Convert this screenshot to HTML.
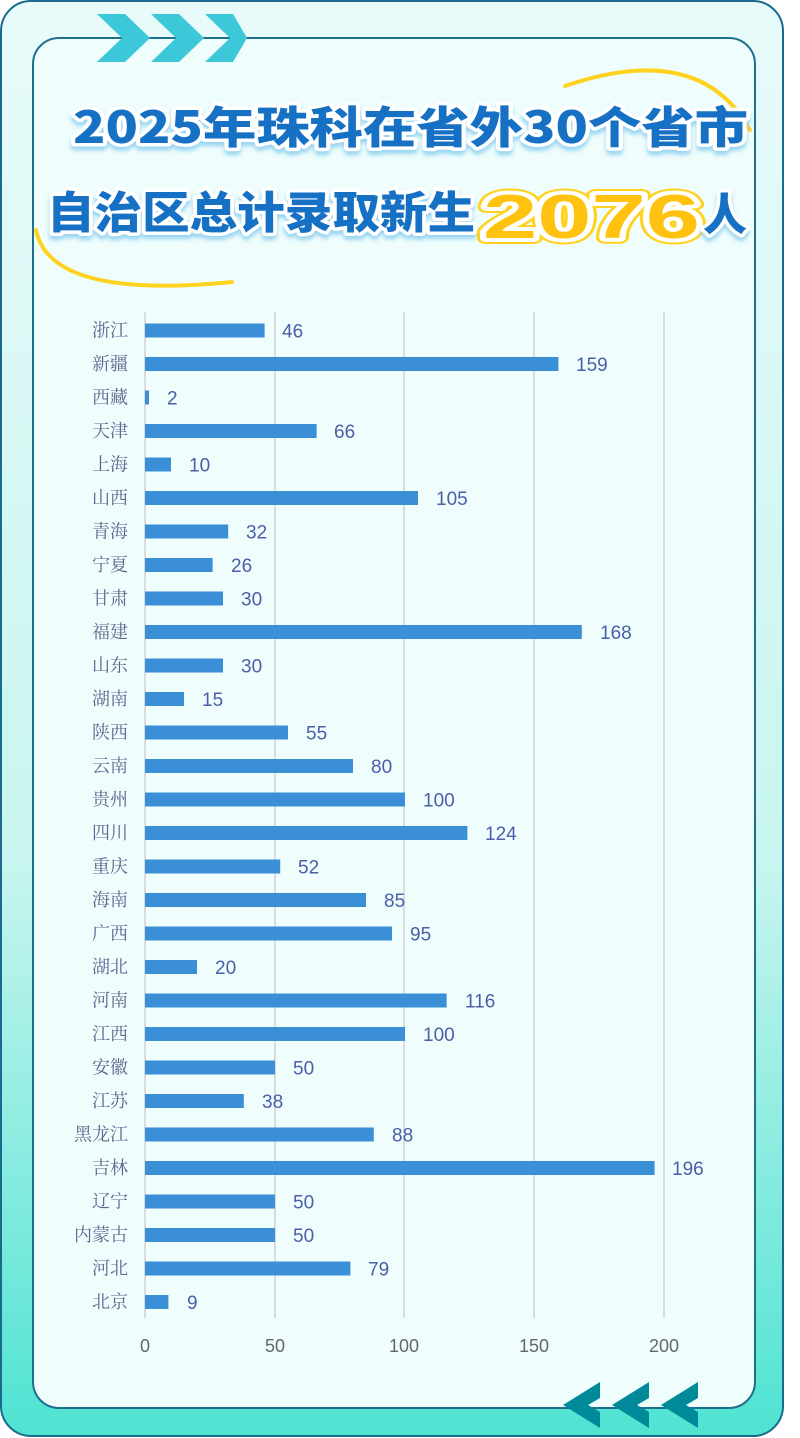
<!DOCTYPE html>
<html><head><meta charset="utf-8"><style>
html,body{margin:0;padding:0;background:#fff}
svg{display:block}
.l{font-family:"Liberation Serif","Noto Serif CJK SC",serif;font-size:18px;fill:#5b6690;text-anchor:end}
.v{font-family:"Liberation Sans","Noto Sans CJK SC",sans-serif;font-size:19px;fill:#4a5fa8}
.t{font-family:"Liberation Sans",sans-serif;font-size:18px;fill:#666;text-anchor:middle}
.b{fill:#3a8fd6}
.h{font-family:"Noto Sans CJK SC","WenQuanYi Zen Hei",sans-serif;font-weight:900;font-size:44px;fill:#1570c4;stroke:#fff;stroke-width:7px;paint-order:stroke;stroke-linejoin:round}
.y{fill:#ffc20e;stroke:#fff;stroke-width:8px;paint-order:stroke;stroke-linejoin:round;font-family:"Liberation Sans",sans-serif;font-weight:900;font-size:62px}
</style></head><body>
<svg width="800" height="1438" viewBox="0 0 800 1438" xmlns="http://www.w3.org/2000/svg">
<defs>
<linearGradient id="og" x1="0" y1="0" x2="0" y2="1">
<stop offset="0" stop-color="#e8fbfa"/><stop offset="0.6" stop-color="#c8f5ef"/><stop offset="1" stop-color="#4fe3d2"/>
</linearGradient>
<filter id="sh"><feDropShadow dx="0" dy="4" stdDeviation="2" flood-color="#8fd0f0" flood-opacity="0.9"/></filter>
</defs>
<rect x="1" y="1" width="782" height="1435" rx="30" fill="url(#og)" stroke="#1a6a90" stroke-width="2"/>
<rect x="33" y="38" width="722" height="1370" rx="26" fill="#effdfc" stroke="#1f6f8f" stroke-width="2"/>
<g fill="#3cc8d8">
<polygon points="97,14 125,14 150,38 125,62 97,62 122,38"/>
<polygon points="151,14 179,14 204,38 179,62 151,62 176,38"/>
<polygon points="205,14 233,14 247,38 233,62 205,62 230,38"/>
</g>
<g fill="#008a99">
<polygon points="600,1382 600,1398 588,1405 600,1412 600,1428 563,1405"/>
<polygon points="649,1382 649,1398 637,1405 649,1412 649,1428 612,1405"/>
<polygon points="698,1382 698,1398 686,1405 698,1412 698,1428 661,1405"/>
</g>
<path d="M565,86 Q700,40 750,130" fill="none" stroke="#ffd21f" stroke-width="4" stroke-linecap="round"/>
<path d="M36,230 Q50,300 232,282" fill="none" stroke="#ffd21f" stroke-width="4" stroke-linecap="round"/>
<text class="h" x="73" y="143" textLength="675" lengthAdjust="spacingAndGlyphs" filter="url(#sh)">2025年珠科在省外30个省市</text>
<text class="h" x="47" y="228" textLength="428" lengthAdjust="spacingAndGlyphs" filter="url(#sh)">自治区总计录取新生</text>
<text x="483" y="238" textLength="217" lengthAdjust="spacingAndGlyphs" fill="none" stroke="#ffd21f" stroke-width="12" stroke-linejoin="round" font-family="Liberation Sans,sans-serif" font-weight="900" font-size="62">2076</text>
<text class="y" x="483" y="238" textLength="217" lengthAdjust="spacingAndGlyphs">2076</text>
<text class="h" x="703" y="230" filter="url(#sh)">人</text>
<g stroke="#dcdcdc" stroke-width="2">
<line x1="145" y1="312" x2="145" y2="1318"/><line x1="275" y1="312" x2="275" y2="1318"/><line x1="404" y1="312" x2="404" y2="1318"/><line x1="534" y1="312" x2="534" y2="1318"/><line x1="664" y1="312" x2="664" y2="1318"/>
</g>
<text class="t" x="145" y="1352">0</text><text class="t" x="275" y="1352">50</text><text class="t" x="404" y="1352">100</text><text class="t" x="534" y="1352">150</text><text class="t" x="664" y="1352">200</text>
<g transform="translate(0,330.5)"><text class="l" x="128" y="6">浙江</text><rect class="b" x="145" y="-7" width="119.6" height="14"/><text class="v" x="282" y="7">46</text></g>
<g transform="translate(0,364)"><text class="l" x="128" y="6">新疆</text><rect class="b" x="145" y="-7" width="413.4" height="14"/><text class="v" x="576" y="7">159</text></g>
<g transform="translate(0,397.5)"><text class="l" x="128" y="6">西藏</text><rect class="b" x="145" y="-7" width="4" height="14"/><text class="v" x="167" y="7">2</text></g>
<g transform="translate(0,431)"><text class="l" x="128" y="6">天津</text><rect class="b" x="145" y="-7" width="171.6" height="14"/><text class="v" x="334" y="7">66</text></g>
<g transform="translate(0,464.5)"><text class="l" x="128" y="6">上海</text><rect class="b" x="145" y="-7" width="26" height="14"/><text class="v" x="189" y="7">10</text></g>
<g transform="translate(0,498)"><text class="l" x="128" y="6">山西</text><rect class="b" x="145" y="-7" width="273" height="14"/><text class="v" x="436" y="7">105</text></g>
<g transform="translate(0,531.5)"><text class="l" x="128" y="6">青海</text><rect class="b" x="145" y="-7" width="83.2" height="14"/><text class="v" x="246" y="7">32</text></g>
<g transform="translate(0,565)"><text class="l" x="128" y="6">宁夏</text><rect class="b" x="145" y="-7" width="67.6" height="14"/><text class="v" x="231" y="7">26</text></g>
<g transform="translate(0,598.5)"><text class="l" x="128" y="6">甘肃</text><rect class="b" x="145" y="-7" width="78" height="14"/><text class="v" x="241" y="7">30</text></g>
<g transform="translate(0,632)"><text class="l" x="128" y="6">福建</text><rect class="b" x="145" y="-7" width="436.8" height="14"/><text class="v" x="600" y="7">168</text></g>
<g transform="translate(0,665.5)"><text class="l" x="128" y="6">山东</text><rect class="b" x="145" y="-7" width="78" height="14"/><text class="v" x="241" y="7">30</text></g>
<g transform="translate(0,699)"><text class="l" x="128" y="6">湖南</text><rect class="b" x="145" y="-7" width="39" height="14"/><text class="v" x="202" y="7">15</text></g>
<g transform="translate(0,732.5)"><text class="l" x="128" y="6">陕西</text><rect class="b" x="145" y="-7" width="143" height="14"/><text class="v" x="306" y="7">55</text></g>
<g transform="translate(0,766)"><text class="l" x="128" y="6">云南</text><rect class="b" x="145" y="-7" width="208" height="14"/><text class="v" x="371" y="7">80</text></g>
<g transform="translate(0,799.5)"><text class="l" x="128" y="6">贵州</text><rect class="b" x="145" y="-7" width="260" height="14"/><text class="v" x="423" y="7">100</text></g>
<g transform="translate(0,833)"><text class="l" x="128" y="6">四川</text><rect class="b" x="145" y="-7" width="322.4" height="14"/><text class="v" x="485" y="7">124</text></g>
<g transform="translate(0,866.5)"><text class="l" x="128" y="6">重庆</text><rect class="b" x="145" y="-7" width="135.2" height="14"/><text class="v" x="298" y="7">52</text></g>
<g transform="translate(0,900)"><text class="l" x="128" y="6">海南</text><rect class="b" x="145" y="-7" width="221" height="14"/><text class="v" x="384" y="7">85</text></g>
<g transform="translate(0,933.5)"><text class="l" x="128" y="6">广西</text><rect class="b" x="145" y="-7" width="247" height="14"/><text class="v" x="410" y="7">95</text></g>
<g transform="translate(0,967)"><text class="l" x="128" y="6">湖北</text><rect class="b" x="145" y="-7" width="52" height="14"/><text class="v" x="215" y="7">20</text></g>
<g transform="translate(0,1000.5)"><text class="l" x="128" y="6">河南</text><rect class="b" x="145" y="-7" width="301.6" height="14"/><text class="v" x="465" y="7">116</text></g>
<g transform="translate(0,1034)"><text class="l" x="128" y="6">江西</text><rect class="b" x="145" y="-7" width="260" height="14"/><text class="v" x="423" y="7">100</text></g>
<g transform="translate(0,1067.5)"><text class="l" x="128" y="6">安徽</text><rect class="b" x="145" y="-7" width="130" height="14"/><text class="v" x="293" y="7">50</text></g>
<g transform="translate(0,1101)"><text class="l" x="128" y="6">江苏</text><rect class="b" x="145" y="-7" width="98.8" height="14"/><text class="v" x="262" y="7">38</text></g>
<g transform="translate(0,1134.5)"><text class="l" x="128" y="6">黑龙江</text><rect class="b" x="145" y="-7" width="228.8" height="14"/><text class="v" x="392" y="7">88</text></g>
<g transform="translate(0,1168)"><text class="l" x="128" y="6">吉林</text><rect class="b" x="145" y="-7" width="509.6" height="14"/><text class="v" x="672" y="7">196</text></g>
<g transform="translate(0,1201.5)"><text class="l" x="128" y="6">辽宁</text><rect class="b" x="145" y="-7" width="130" height="14"/><text class="v" x="293" y="7">50</text></g>
<g transform="translate(0,1235)"><text class="l" x="128" y="6">内蒙古</text><rect class="b" x="145" y="-7" width="130" height="14"/><text class="v" x="293" y="7">50</text></g>
<g transform="translate(0,1268.5)"><text class="l" x="128" y="6">河北</text><rect class="b" x="145" y="-7" width="205.4" height="14"/><text class="v" x="368" y="7">79</text></g>
<g transform="translate(0,1302)"><text class="l" x="128" y="6">北京</text><rect class="b" x="145" y="-7" width="23.4" height="14"/><text class="v" x="187" y="7">9</text></g>
</svg>
</body></html>
